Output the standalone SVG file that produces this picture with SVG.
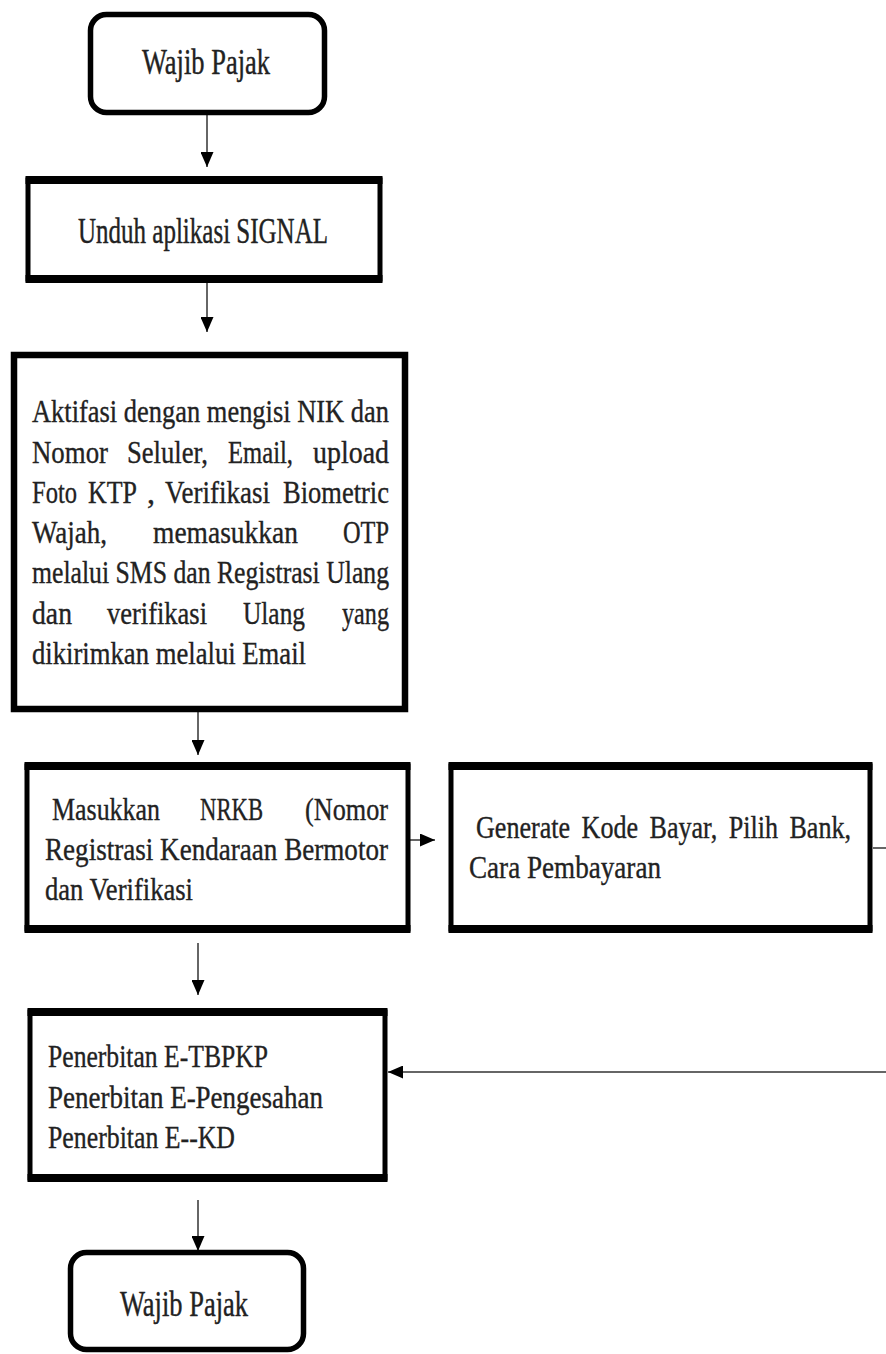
<svg xmlns="http://www.w3.org/2000/svg" width="886" height="1354" viewBox="0 0 886 1354">
<defs>
<style>
.box{fill:#fff;stroke:#000;stroke-width:5}
.edge{stroke:#000;stroke-width:8;fill:none}
.rbox{fill:#fff;stroke:#000;stroke-width:5.5}
.t{font-family:"Liberation Serif","DejaVu Serif",serif;font-size:32px;fill:#222;stroke:#222;stroke-width:0.35}
.tb{font-family:"Liberation Serif","DejaVu Serif",serif;font-size:35px;fill:#222;stroke:#222;stroke-width:0.4}
.c{fill:none;stroke:#333;stroke-width:1.5}
</style>
<marker id="ah" markerUnits="userSpaceOnUse" markerWidth="15" markerHeight="13" refX="15" refY="6.5" orient="auto">
<path d="M0,0 L15,6.5 L0,13 z" fill="#000"/>
</marker>
</defs>
<rect width="886" height="1354" fill="#fff"/>

<g id="connectors">
<line class="c" x1="207" y1="115" x2="207" y2="167" marker-end="url(#ah)"/>
<line class="c" x1="207" y1="282" x2="207" y2="332" marker-end="url(#ah)"/>
<line class="c" x1="198" y1="712" x2="198" y2="755" marker-end="url(#ah)"/>
<line class="c" x1="410" y1="840" x2="435" y2="840" marker-end="url(#ah)"/>
<line class="c" x1="873" y1="848" x2="886" y2="848"/>
<line class="c" x1="886" y1="1072" x2="388" y2="1072" stroke="#666" marker-end="url(#ah)"/>
<line class="c" x1="198" y1="943" x2="198" y2="995" marker-end="url(#ah)"/>
<line class="c" x1="198" y1="1200" x2="198" y2="1251" marker-end="url(#ah)"/>
</g>

<g id="n1">
<rect class="rbox" x="90.5" y="14.5" width="234" height="98" rx="16"/>
<text class="tb" x="142" y="74" textLength="128" lengthAdjust="spacingAndGlyphs">Wajib Pajak</text>
</g>

<g id="n2">
<rect class="box" x="28" y="180" width="352" height="99"/>
<path class="edge" d="M25.5,180 H382.5 M25.5,279 H382.5"/>
<text class="tb" x="78" y="243" textLength="250" lengthAdjust="spacingAndGlyphs">Unduh aplikasi SIGNAL</text>
</g>

<g id="n3">
<rect class="box" x="14" y="355" width="391" height="354" style="stroke-width:6.5"/>
<text class="t" x="32" y="422" textLength="357" lengthAdjust="spacingAndGlyphs">Aktifasi dengan mengisi NIK dan</text>
<text class="t" y="463"><tspan x="32" textLength="76" lengthAdjust="spacingAndGlyphs">Nomor</tspan><tspan x="127" textLength="81" lengthAdjust="spacingAndGlyphs">Seluler,</tspan><tspan x="228" textLength="65" lengthAdjust="spacingAndGlyphs">Email,</tspan><tspan x="313" textLength="76" lengthAdjust="spacingAndGlyphs">upload</tspan></text>
<text class="t" y="503"><tspan x="32" textLength="45" lengthAdjust="spacingAndGlyphs">Foto</tspan><tspan x="88" textLength="49" lengthAdjust="spacingAndGlyphs">KTP</tspan><tspan x="147">,</tspan><tspan x="165" textLength="105" lengthAdjust="spacingAndGlyphs">Verifikasi</tspan><tspan x="283" textLength="106" lengthAdjust="spacingAndGlyphs">Biometric</tspan></text>
<text class="t" y="543"><tspan x="32" textLength="75" lengthAdjust="spacingAndGlyphs">Wajah,</tspan><tspan x="153" textLength="145" lengthAdjust="spacingAndGlyphs">memasukkan</tspan><tspan x="343" textLength="46" lengthAdjust="spacingAndGlyphs">OTP</tspan></text>
<text class="t" x="32" y="583" textLength="357" lengthAdjust="spacingAndGlyphs">melalui SMS dan Registrasi Ulang</text>
<text class="t" y="624"><tspan x="32" textLength="40" lengthAdjust="spacingAndGlyphs">dan</tspan><tspan x="107" textLength="100" lengthAdjust="spacingAndGlyphs">verifikasi</tspan><tspan x="243" textLength="62" lengthAdjust="spacingAndGlyphs">Ulang</tspan><tspan x="342" textLength="47" lengthAdjust="spacingAndGlyphs">yang</tspan></text>
<text class="t" x="32" y="664" textLength="274" lengthAdjust="spacingAndGlyphs">dikirimkan melalui Email</text>
</g>

<g id="n4">
<rect class="box" x="27" y="766" width="381" height="163"/>
<path class="edge" d="M24.5,766 H410.5 M24.5,929 H410.5"/>
<text class="t" y="820"><tspan x="52" textLength="108" lengthAdjust="spacingAndGlyphs">Masukkan</tspan><tspan x="200" textLength="63" lengthAdjust="spacingAndGlyphs">NRKB</tspan><tspan x="305" textLength="83" lengthAdjust="spacingAndGlyphs">(Nomor</tspan></text>
<text class="t" x="45" y="860" textLength="343" lengthAdjust="spacingAndGlyphs">Registrasi Kendaraan Bermotor</text>
<text class="t" x="45" y="900" textLength="148" lengthAdjust="spacingAndGlyphs">dan Verifikasi</text>
</g>

<g id="n5">
<rect class="box" x="451" y="766" width="419" height="163"/>
<path class="edge" d="M448.5,766 H872.5 M448.5,929 H872.5"/>
<text class="t" x="476" y="838" textLength="375" lengthAdjust="spacingAndGlyphs" word-spacing="6">Generate Kode Bayar, Pilih Bank,</text>
<text class="t" x="469" y="878" textLength="192" lengthAdjust="spacingAndGlyphs">Cara Pembayaran</text>
</g>

<g id="n6">
<rect class="box" x="30" y="1012" width="355" height="166"/>
<path class="edge" d="M27.5,1012 H387.5 M27.5,1178 H387.5"/>
<text class="t" x="48" y="1067" textLength="220" lengthAdjust="spacingAndGlyphs">Penerbitan E-TBPKP</text>
<text class="t" x="48" y="1108" textLength="275" lengthAdjust="spacingAndGlyphs">Penerbitan E-Pengesahan</text>
<text class="t" x="48" y="1148" textLength="187" lengthAdjust="spacingAndGlyphs">Penerbitan E--KD</text>
</g>

<g id="n7">
<rect class="rbox" x="70.5" y="1252.5" width="233" height="97" rx="16"/>
<text class="tb" x="120" y="1316" textLength="128" lengthAdjust="spacingAndGlyphs">Wajib Pajak</text>
</g>
</svg>
